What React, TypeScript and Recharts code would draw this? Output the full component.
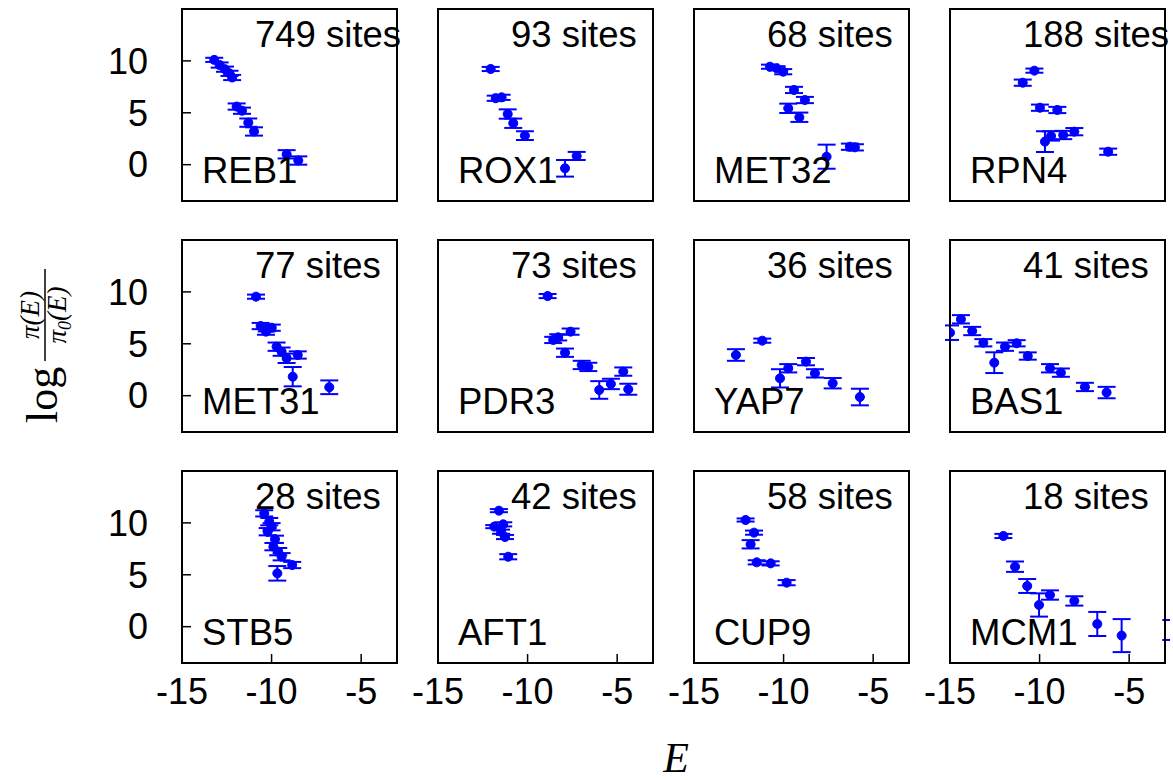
import React from 'react';
import { ScatterChart, Scatter, XAxis, YAxis, ZAxis, ErrorBar } from 'recharts';

// ---- data ----
const GENES = ['REB1', 'ROX1', 'MET32', 'RPN4', 'MET31', 'PDR3', 'YAP7', 'BAS1', 'STB5', 'AFT1', 'CUP9', 'MCM1'];
const SITES = [749, 93, 68, 188, 77, 73, 36, 41, 28, 42, 58, 18];

const REB1_E = [-13.2, -12.9, -12.6, -12.35, -12.2, -11.95, -11.65, -11.3, -10.98, -9.16, -8.51];
const REB1_V = [10.1, 9.6, 9.2, 8.8, 8.4, 5.6, 5.2, 4.05, 3.2, 1.0, 0.4];
const REB1_ERR = [0.2, 0.25, 0.25, 0.25, 0.25, 0.3, 0.3, 0.4, 0.4, 0.4, 0.4];

const ROX1_E = [-12.06, -11.78, -11.45, -11.11, -10.8, -10.15, -7.91, -7.26];
const ROX1_V = [9.22, 6.4, 6.49, 4.88, 3.99, 2.8, -0.35, 0.84];
const ROX1_ERR = [0.2, 0.25, 0.25, 0.45, 0.45, 0.42, 0.8, 0.39];

const MET32_E = [-10.76, -10.39, -10.02, -9.42, -8.81, -9.74, -9.12, -7.6, -6.3, -6.02];
const MET32_V = [9.44, 9.29, 8.96, 7.2, 6.23, 5.43, 4.57, 0.77, 1.73, 1.67];
const MET32_ERR = [0.2, 0.2, 0.25, 0.3, 0.3, 0.45, 0.45, 1.16, 0.3, 0.3];

const RPN4_E = [-10.29, -10.94, -9.98, -9.01, -9.7, -9.36, -8.68, -8.06, -6.17];
const RPN4_V = [9.06, 7.9, 5.49, 5.27, 2.22, 2.77, 2.86, 3.18, 1.25];
const RPN4_ERR = [0.2, 0.3, 0.3, 0.3, 1.0, 0.45, 0.4, 0.35, 0.3];

const MET31_E = [-10.87, -10.61, -10.27, -9.99, -10.31, -9.72, -9.44, -9.16, -8.54, -8.82, -6.78];
const MET31_V = [9.54, 6.71, 6.49, 6.55, 6.17, 4.72, 4.24, 3.6, 3.92, 1.83, 0.81];
const MET31_ERR = [0.2, 0.3, 0.3, 0.3, 0.3, 0.4, 0.4, 0.45, 0.35, 0.93, 0.66];

const PDR3_E = [-8.88, -8.57, -8.29, -7.6, -7.91, -6.98, -6.61, -6.0, -5.35, -4.66, -4.38];
const PDR3_V = [9.6, 5.37, 5.62, 6.17, 4.14, 2.96, 2.77, 0.55, 1.13, 2.32, 0.62];
const PDR3_ERR = [0.2, 0.3, 0.3, 0.3, 0.4, 0.4, 0.4, 0.85, 0.5, 0.4, 0.53];

const YAP7_E = [-12.66, -11.19, -10.2, -9.74, -8.75, -8.25, -7.26, -5.74];
const YAP7_V = [3.92, 5.3, 1.67, 2.64, 3.28, 2.15, 1.2, -0.13];
const YAP7_ERR = [0.56, 0.2, 0.88, 0.4, 0.35, 0.4, 0.5, 0.8];

const BAS1_E = [-15.0, -14.39, -13.76, -13.14, -12.53, -11.93, -11.28, -10.66, -9.42, -8.81, -7.47, -6.26];
const BAS1_V = [6.07, 7.36, 6.23, 5.1, 3.18, 4.72, 5.05, 3.82, 2.64, 2.22, 0.84, 0.3];
const BAS1_ERR = [0.7, 0.4, 0.4, 0.35, 1.0, 0.4, 0.3, 0.35, 0.4, 0.4, 0.4, 0.55];

const STB5_E = [-10.41, -10.13, -10.0, -10.22, -9.81, -9.9, -9.63, -9.44, -8.85, -9.68];
const STB5_V = [10.92, 10.12, 9.63, 9.15, 8.42, 7.71, 7.23, 6.74, 5.94, 5.14];
const STB5_ERR = [0.3, 0.35, 0.35, 0.35, 0.35, 0.35, 0.35, 0.35, 0.3, 0.7];

const AFT1_E = [-11.6, -11.86, -11.36, -11.48, -11.26, -11.08];
const AFT1_V = [11.18, 9.64, 9.86, 9.15, 8.64, 6.74];
const AFT1_ERR = [0.15, 0.15, 0.2, 0.2, 0.2, 0.25];

const CUP9_E = [-12.12, -11.65, -11.84, -11.5, -10.72, -9.83];
const CUP9_V = [10.28, 9.06, 7.94, 6.2, 6.1, 4.24];
const CUP9_ERR = [0.15, 0.2, 0.4, 0.2, 0.2, 0.25];

const MCM1_E = [-12.02, -11.37, -10.69, -10.03, -9.42, -8.06, -6.78, -5.42, -2.65];
const MCM1_V = [8.74, 5.78, 3.92, 2.09, 3.05, 2.48, 0.26, -0.86, -0.32];
const MCM1_ERR = [0.2, 0.5, 0.67, 1.12, 0.45, 0.45, 1.16, 1.59, 0.96];

const X_DOMAIN: [number, number] = [-15, -3];
const X_TICKS = [-15, -10, -5];
const Y_DOMAIN: [number, number] = [-3.5, 15];
const Y_TICKS = [0, 5, 10];

const SERIES = [
  [REB1_E, REB1_V, REB1_ERR],
  [ROX1_E, ROX1_V, ROX1_ERR],
  [MET32_E, MET32_V, MET32_ERR],
  [RPN4_E, RPN4_V, RPN4_ERR],
  [MET31_E, MET31_V, MET31_ERR],
  [PDR3_E, PDR3_V, PDR3_ERR],
  [YAP7_E, YAP7_V, YAP7_ERR],
  [BAS1_E, BAS1_V, BAS1_ERR],
  [STB5_E, STB5_V, STB5_ERR],
  [AFT1_E, AFT1_V, AFT1_ERR],
  [CUP9_E, CUP9_V, CUP9_ERR],
  [MCM1_E, MCM1_V, MCM1_ERR],
];

// ---- layout ----
const COL_LEFT = [182, 438, 694, 950];
const ROW_TOP = [9, 240, 471];
const PW = 215;
const PH = 192;
const BLUE = '#0000ff';
const SANS = '"Liberation Sans", Arial, Helvetica, sans-serif';
const SERIF = '"Liberation Serif", "DejaVu Serif", serif';

const frame = { stroke: '#000', strokeWidth: 2, strokeLinecap: 'square' as const };
const tickLn = { stroke: '#000', strokeWidth: 1.5 };
const tickFont = { fill: '#000', fontSize: 36, fontFamily: SANS };

function Panel({ idx }: { idx: number }) {
  const row = Math.floor(idx / 4);
  const col = idx % 4;
  const isLeft = col === 0;
  const isBottom = row === 2;
  const wl = isLeft ? 100 : 1;
  const wr = 1;
  const ht = 1;
  const hb = isBottom ? 60 : 1;
  const m = { top: 4, right: 4, bottom: 4, left: isBottom ? 40 : 4 };
  const W = PW + m.left + m.right + wl + wr;
  const H = PH + m.top + m.bottom + ht + hb;
  const left = COL_LEFT[col] - m.left - wl;
  const top = ROW_TOP[row] - m.top - ht;
  const [es, vs, errs] = SERIES[idx];
  const data = es.map((e, i) => ({ e, v: vs[i], err: errs[i] }));
  return (
    <div style={{ position: 'absolute', left, top, width: W, height: H }}>
      <ScatterChart width={W} height={H} margin={m}>
        <XAxis
          xAxisId="b"
          dataKey="e"
          type="number"
          orientation="bottom"
          domain={X_DOMAIN}
          ticks={X_TICKS}
          interval={0}
          allowDataOverflow
          height={hb}
          tickSize={-9}
          tickMargin={24}
          stroke="#000"
          axisLine={frame}
          tickLine={tickLn}
          tick={isBottom ? tickFont : false}
        />
        <XAxis
          xAxisId="t"
          type="number"
          orientation="top"
          domain={X_DOMAIN}
          ticks={X_TICKS}
          interval={0}
          allowDataOverflow
          height={ht}
          tickSize={-9}
          stroke="#000"
          axisLine={frame}
          tickLine={tickLn}
          tick={false}
        />
        <YAxis
          yAxisId="l"
          dataKey="v"
          type="number"
          orientation="left"
          domain={Y_DOMAIN}
          ticks={Y_TICKS}
          interval={0}
          allowDataOverflow
          width={wl}
          tickSize={-9}
          tickMargin={43}
          stroke="#000"
          axisLine={frame}
          tickLine={tickLn}
          tick={isLeft ? tickFont : false}
        />
        <YAxis
          yAxisId="r"
          type="number"
          orientation="right"
          domain={Y_DOMAIN}
          ticks={Y_TICKS}
          interval={0}
          allowDataOverflow
          width={wr}
          tickSize={-9}
          stroke="#000"
          axisLine={frame}
          tickLine={tickLn}
          tick={false}
        />
        <ZAxis range={[76, 76]} />
        <Scatter data={data} xAxisId="b" yAxisId="l" fill={BLUE} stroke={BLUE} isAnimationActive={false}>
          <ErrorBar dataKey="err" direction="y" width={9} stroke={BLUE} strokeWidth={2} isAnimationActive={false} />
        </Scatter>
      </ScatterChart>
    </div>
  );
}

export default function App() {
  return (
    <div style={{ position: 'absolute', left: 0, top: 0, width: 1173, height: 780, background: '#fff' }}>
      {GENES.map((g, i) => (
        <Panel key={g} idx={i} />
      ))}
      <svg width={1173} height={780} style={{ position: 'absolute', left: 0, top: 0, pointerEvents: 'none' }}>
        {GENES.map((g, i) => {
          const row = Math.floor(i / 4);
          const col = i % 4;
          const x0 = COL_LEFT[col];
          const y0 = ROW_TOP[row];
          return (
            <g key={g} fontFamily={SANS} fontSize={36.5} fill="#000">
              <text x={x0 + 73} y={y0 + 38}>{`${SITES[i]} sites`}</text>
              <text x={x0 + 20} y={y0 + 174}>{g}</text>
            </g>
          );
        })}
        <g transform="translate(45,335) rotate(-90)" fontFamily={SERIF} fill="#000">
          <text x={-88} y={12} fontSize={44}>log</text>
          <text x={20} y={-6} fontSize={27} textAnchor="middle" fontStyle="italic">π(E)</text>
          <line x1={-26} x2={66} y1={0} y2={0} stroke="#000" strokeWidth={1.5} />
          <text x={20} y={21} fontSize={27} textAnchor="middle" fontStyle="italic">π<tspan fontSize={18} dy={5}>0</tspan><tspan dy={-5}>(E)</tspan></text>
        </g>
        <text x={676} y={772} fontFamily={SERIF} fontSize={42} fontStyle="italic" textAnchor="middle" fill="#000">E</text>
      </svg>
    </div>
  );
}
